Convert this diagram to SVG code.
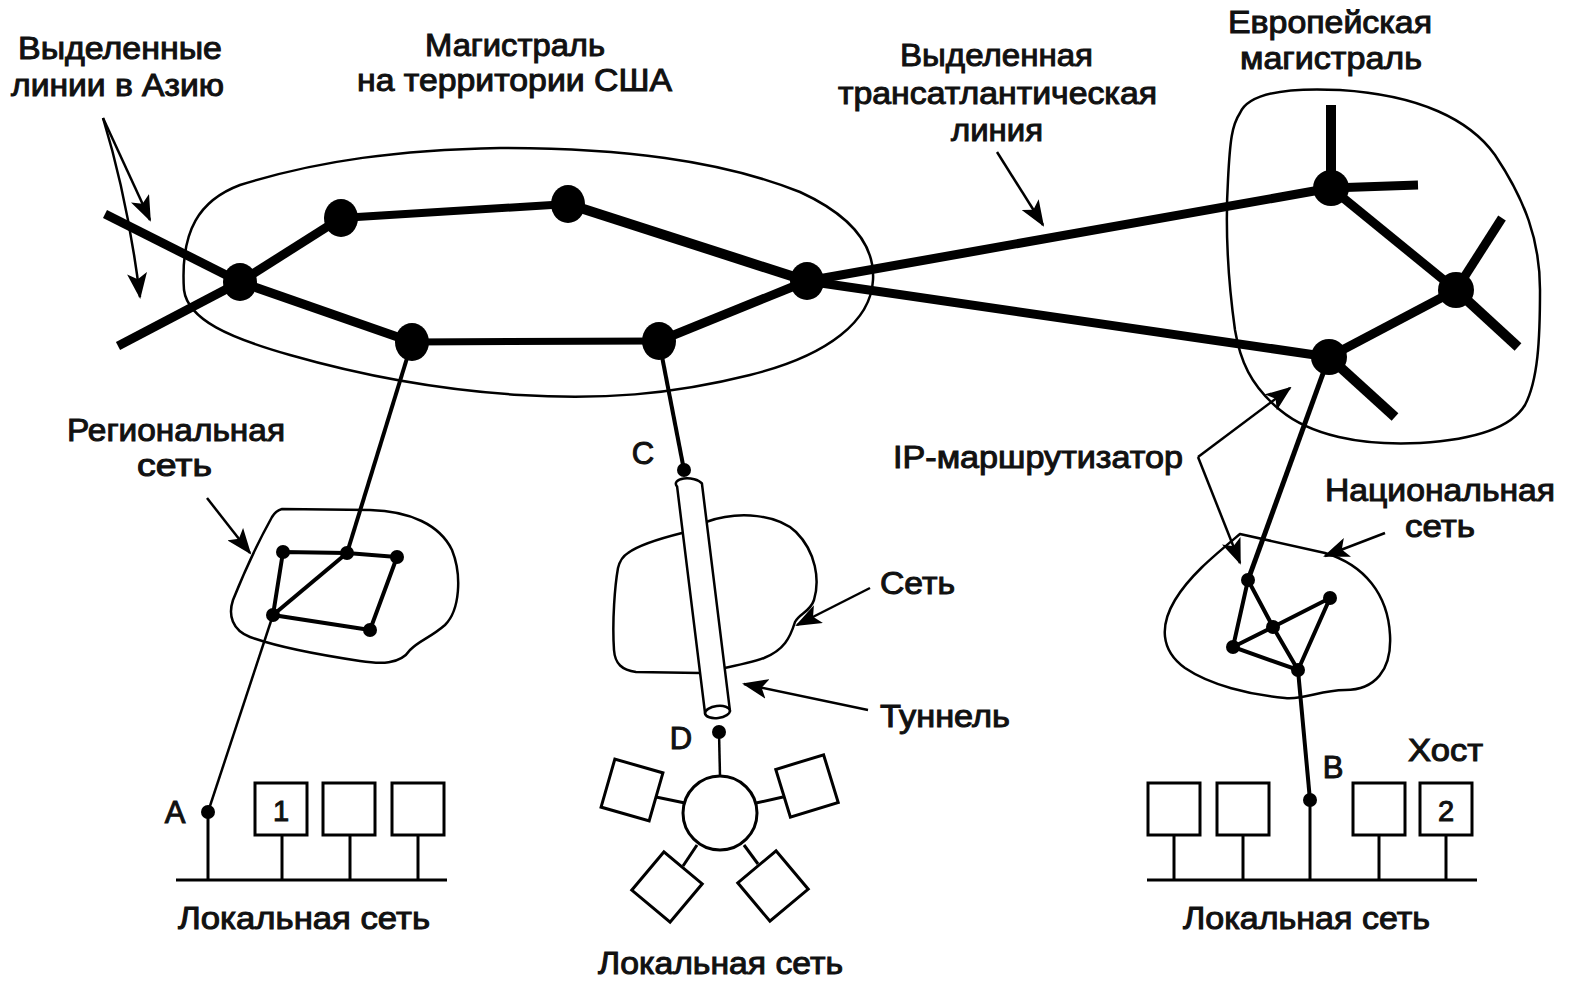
<svg xmlns="http://www.w3.org/2000/svg" width="1570" height="981" viewBox="0 0 1570 981">
<defs>
<style>
.t{font-family:"Liberation Sans",Arial,sans-serif;font-size:31px;fill:#111;stroke:#111;stroke-width:1}
.bb{stroke:#000;stroke-linecap:butt;fill:none}
.blob{fill:none;stroke:#000;stroke-width:2.5}
.thin{stroke:#000;fill:none}
.box{fill:#fff;stroke:#000;stroke-width:3}
.ptr{stroke:#000;stroke-width:2.5;fill:none}
</style>
<marker id="ah" markerUnits="userSpaceOnUse" markerWidth="26" markerHeight="20" refX="24" refY="10" orient="auto">
<path d="M0,0 L26,10 L0,20 L6,10 Z" fill="#000"/>
</marker>
</defs>
<rect width="1570" height="981" fill="#fff"/>

<!-- outlines -->
<g id="usa-backbone-area">
<path class="blob" d="M184,290 C180,230 200,200 240,185 C320,160 400,150 500,148 C620,148 720,160 800,192 C850,215 875,245 873,280 C871,320 830,355 750,375 C670,395 600,400 520,395 C440,390 360,375 290,355 C230,338 188,320 184,290 Z"/>
</g>
<g id="europe-backbone-area">
<path class="blob" d="M1240,113 C1250,90 1300,88 1340,90 C1420,95 1470,120 1495,155 C1525,200 1540,240 1540,290 C1540,340 1538,380 1525,405 C1510,430 1470,440 1420,443 C1360,446 1310,435 1280,410 C1250,385 1240,360 1235,330 C1228,280 1225,230 1228,180 C1230,140 1232,125 1240,113 Z"/>
</g>
<g id="regional-net-area">
<path class="blob" d="M282,509 L370,510 C410,511 440,525 452,550 C462,575 460,610 445,625 C430,638 420,640 410,650 C400,665 380,664 360,661 C320,655 280,648 250,637 C232,630 228,615 233,600 C245,570 262,535 272,517 C275,512 278,510 282,509 Z"/>
</g>
<g id="national-net-area">
<path class="blob" d="M1240,534 L1325,553 C1365,565 1388,595 1390,635 C1392,670 1375,690 1345,690 C1320,690 1305,700 1285,698 C1250,695 1210,685 1185,668 C1160,650 1160,625 1175,600 C1190,575 1215,555 1240,534 Z"/>
</g>
<g id="transit-net-area">
<path class="blob" d="M628,553 C640,544 662,538 682,533 L706,522 C740,510 778,515 796,532 C816,552 820,580 814,600 C810,612 800,613 795,622 C790,638 784,650 764,658 C745,665 722,668 700,673 L636,672 C622,670 615,664 614,650 C612,620 615,585 618,568 C620,560 623,556 628,553 Z"/>
</g>

<!-- connectors -->
<g id="connectors">
<line class="bb" x1="105" y1="214" x2="240" y2="282" stroke-width="9"/>
<line class="bb" x1="240" y1="282" x2="412" y2="342" stroke-width="9"/>
<line class="bb" x1="118" y1="346" x2="240" y2="282" stroke-width="9"/>
<line class="bb" x1="240" y1="282" x2="341" y2="218" stroke-width="9"/>
<line class="bb" x1="341" y1="218" x2="568" y2="204" stroke-width="8"/>
<line class="bb" x1="568" y1="204" x2="807" y2="281" stroke-width="10"/>
<line class="bb" x1="412" y1="342" x2="659" y2="341" stroke-width="7"/>
<line class="bb" x1="659" y1="341" x2="807" y2="281" stroke-width="9"/>
<line class="bb" x1="807" y1="281" x2="1331" y2="188" stroke-width="9"/>
<line class="bb" x1="807" y1="281" x2="1329" y2="357" stroke-width="9"/>
<line class="bb" x1="1331" y1="188" x2="1331" y2="105" stroke-width="10"/>
<line class="bb" x1="1331" y1="188" x2="1418" y2="185" stroke-width="9"/>
<line class="bb" x1="1331" y1="188" x2="1456" y2="290" stroke-width="9"/>
<line class="bb" x1="1456" y1="290" x2="1502" y2="218" stroke-width="9"/>
<line class="bb" x1="1456" y1="290" x2="1518" y2="347" stroke-width="10"/>
<line class="bb" x1="1456" y1="290" x2="1329" y2="357" stroke-width="9"/>
<line class="bb" x1="1329" y1="357" x2="1395" y2="417" stroke-width="10"/>
<!-- to subnets -->
<line class="thin" x1="412" y1="342" x2="347" y2="553" stroke-width="4"/>
<line class="thin" x1="659" y1="341" x2="684" y2="470" stroke-width="4"/>
<line class="thin" x1="1329" y1="357" x2="1248" y2="580" stroke-width="5"/>
<line class="thin" x1="1298" y1="670" x2="1310" y2="800" stroke-width="4"/>
<line class="thin" x1="273" y1="615" x2="208" y2="812" stroke-width="2.5"/>
<line class="thin" x1="719" y1="732" x2="720" y2="776" stroke-width="2.5"/>
<!-- regional net -->
<g stroke="#000" stroke-width="4" fill="none">
<polyline points="283,552 347,553 397,557 370,630 273,615 283,552"/>
<line x1="273" y1="615" x2="347" y2="553"/>
</g>
<!-- national net -->
<g stroke="#000" stroke-width="4" fill="none">
<polyline points="1248,580 1233,647 1298,670 1330,598 1273,627 1233,647"/>
<polyline points="1248,580 1273,627 1298,670"/>
</g>
<!-- LAN buses -->
<g stroke="#000" stroke-width="3">
<line x1="176" y1="880" x2="447" y2="880"/>
<line x1="208" y1="812" x2="208" y2="880"/>
<line x1="282" y1="835" x2="282" y2="880"/>
<line x1="350" y1="835" x2="350" y2="880"/>
<line x1="418" y1="835" x2="418" y2="880"/>
<line x1="1147" y1="880" x2="1477" y2="880"/>
<line x1="1174" y1="835" x2="1174" y2="880"/>
<line x1="1243" y1="835" x2="1243" y2="880"/>
<line x1="1310" y1="800" x2="1310" y2="880"/>
<line x1="1379" y1="835" x2="1379" y2="880"/>
<line x1="1446" y1="835" x2="1446" y2="880"/>
<!-- star spokes -->
<line x1="685" y1="803" x2="656" y2="797"/>
<line x1="756" y1="803" x2="783" y2="797"/>
<line x1="697" y1="845" x2="683" y2="866"/>
<line x1="744" y1="845" x2="758" y2="864"/>
</g>
<!-- pointer arrows -->
<line class="ptr" x1="103" y1="118" x2="150" y2="220" marker-end="url(#ah)"/>
<path class="ptr" d="M103,118 Q128,200 140,297" marker-end="url(#ah)"/>
<line class="ptr" x1="997" y1="152" x2="1043" y2="225" marker-end="url(#ah)"/>
<line class="ptr" x1="207" y1="498" x2="250" y2="553" marker-end="url(#ah)"/>
<line class="ptr" x1="870" y1="588" x2="797" y2="625" marker-end="url(#ah)"/>
<line class="ptr" x1="868" y1="710" x2="744" y2="684" marker-end="url(#ah)"/>
<line class="ptr" x1="1198" y1="457" x2="1290" y2="388" marker-end="url(#ah)"/>
<line class="ptr" x1="1198" y1="457" x2="1240" y2="563" marker-end="url(#ah)"/>
<line class="ptr" x1="1385" y1="533" x2="1325" y2="556" marker-end="url(#ah)"/>
</g>

<!-- tunnel -->
<g id="tunnel">
<path d="M677.1,486.6 A12.5,6 7 0 1 701.9,483.4 L729.9,710.4 L705.1,713.6 Z" fill="#fff" stroke="#000" stroke-width="2.5"/>
<ellipse cx="717.5" cy="712" rx="12.5" ry="6" transform="rotate(-7 717.5 712)" fill="#fff" stroke="#000" stroke-width="2.5"/>
</g>

<!-- backbone routers -->
<g id="usa-routers" fill="#000">
<ellipse id="r-n1" cx="240" cy="282" rx="17" ry="19"/>
<ellipse id="r-n2" cx="341" cy="218" rx="17" ry="19"/>
<ellipse id="r-n3" cx="568" cy="204" rx="17" ry="19"/>
<ellipse id="r-n4" cx="807" cy="281" rx="17" ry="19"/>
<ellipse id="r-n5" cx="412" cy="342" rx="17" ry="19"/>
<ellipse id="r-n6" cx="659" cy="341" rx="17" ry="19"/>
</g>
<g id="europe-routers" fill="#000">
<circle id="r-e1" cx="1331" cy="188" r="18"/>
<circle id="r-e2" cx="1456" cy="290" r="18"/>
<circle id="r-e3" cx="1329" cy="357" r="18"/>
</g>
<g id="regional-routers" fill="#000">
<circle cx="283" cy="552" r="7"/>
<circle cx="347" cy="553" r="7"/>
<circle cx="397" cy="557" r="7"/>
<circle cx="273" cy="615" r="7"/>
<circle cx="370" cy="630" r="7"/>
</g>
<g id="national-routers" fill="#000">
<circle cx="1248" cy="580" r="7"/>
<circle cx="1330" cy="598" r="7"/>
<circle cx="1273" cy="627" r="7"/>
<circle cx="1233" cy="647" r="7"/>
<circle cx="1298" cy="670" r="7"/>
</g>
<g id="points" fill="#000">
<circle id="pA" cx="208" cy="812" r="7"/>
<circle id="pB" cx="1310" cy="800" r="7"/>
<circle id="pC" cx="684" cy="470" r="7"/>
<circle id="pD" cx="719" cy="732" r="7"/>
</g>

<!-- hosts -->
<g id="lan-left-hosts">
<rect class="box" x="255" y="783" width="52" height="52"/>
<rect class="box" x="323" y="783" width="52" height="52"/>
<rect class="box" x="392" y="783" width="52" height="52"/>
<text class="t" x="281" y="821" text-anchor="middle" style="font-size:29px">1</text>
</g>
<g id="lan-right-hosts">
<rect class="box" x="1148" y="783" width="52" height="52"/>
<rect class="box" x="1217" y="783" width="52" height="52"/>
<rect class="box" x="1353" y="783" width="52" height="52"/>
<rect class="box" x="1420" y="783" width="52" height="52"/>
<text class="t" x="1446" y="821" text-anchor="middle" style="font-size:29px">2</text>
</g>
<g id="lan-star">
<circle cx="720" cy="813" r="37" fill="#fff" stroke="#000" stroke-width="3"/>
<rect class="box" x="-25" y="-25" width="50" height="50" transform="translate(632 790) rotate(16)"/>
<rect class="box" x="-25" y="-25" width="50" height="50" transform="translate(807 786) rotate(-17)"/>
<rect class="box" x="-25" y="-25" width="50" height="50" transform="translate(667 887) rotate(40)"/>
<rect class="box" x="-25" y="-25" width="50" height="50" transform="translate(773 886) rotate(-40)"/>
</g>

<!-- labels -->
<g id="labels">
<text class="t" x="18" y="59" textLength="204" lengthAdjust="spacingAndGlyphs">Выделенные</text>
<text class="t" x="11" y="96" textLength="213" lengthAdjust="spacingAndGlyphs">линии в Азию</text>
<text class="t" x="425" y="56" textLength="180" lengthAdjust="spacingAndGlyphs">Магистраль</text>
<text class="t" x="357" y="91" textLength="315" lengthAdjust="spacingAndGlyphs">на территории США</text>
<text class="t" x="900" y="66" textLength="193" lengthAdjust="spacingAndGlyphs">Выделенная</text>
<text class="t" x="838" y="104" textLength="319" lengthAdjust="spacingAndGlyphs">трансатлантическая</text>
<text class="t" x="951" y="141" textLength="92" lengthAdjust="spacingAndGlyphs">линия</text>
<text class="t" x="1228" y="33" textLength="204" lengthAdjust="spacingAndGlyphs">Европейская</text>
<text class="t" x="1240" y="69" textLength="182" lengthAdjust="spacingAndGlyphs">магистраль</text>
<text class="t" x="67" y="441" textLength="218" lengthAdjust="spacingAndGlyphs">Региональная</text>
<text class="t" x="137" y="476" textLength="75" lengthAdjust="spacingAndGlyphs">сеть</text>
<text class="t" x="643" y="464" text-anchor="middle">C</text>
<text class="t" x="880" y="594" textLength="75" lengthAdjust="spacingAndGlyphs">Сеть</text>
<text class="t" x="880" y="727" textLength="130" lengthAdjust="spacingAndGlyphs">Туннель</text>
<text class="t" x="681" y="749" text-anchor="middle">D</text>
<text class="t" x="893" y="468" textLength="290" lengthAdjust="spacingAndGlyphs">IP-маршрутизатор</text>
<text class="t" x="1325" y="501" textLength="230" lengthAdjust="spacingAndGlyphs">Национальная</text>
<text class="t" x="1405" y="537" textLength="70" lengthAdjust="spacingAndGlyphs">сеть</text>
<text class="t" x="175" y="823" text-anchor="middle">A</text>
<text class="t" x="1333" y="778" text-anchor="middle">B</text>
<text class="t" x="1408" y="761" textLength="75" lengthAdjust="spacingAndGlyphs">Хост</text>
<text class="t" x="178" y="929" textLength="252" lengthAdjust="spacingAndGlyphs">Локальная сеть</text>
<text class="t" x="598" y="974" textLength="245" lengthAdjust="spacingAndGlyphs">Локальная сеть</text>
<text class="t" x="1183" y="929" textLength="247" lengthAdjust="spacingAndGlyphs">Локальная сеть</text>
</g>
</svg>
